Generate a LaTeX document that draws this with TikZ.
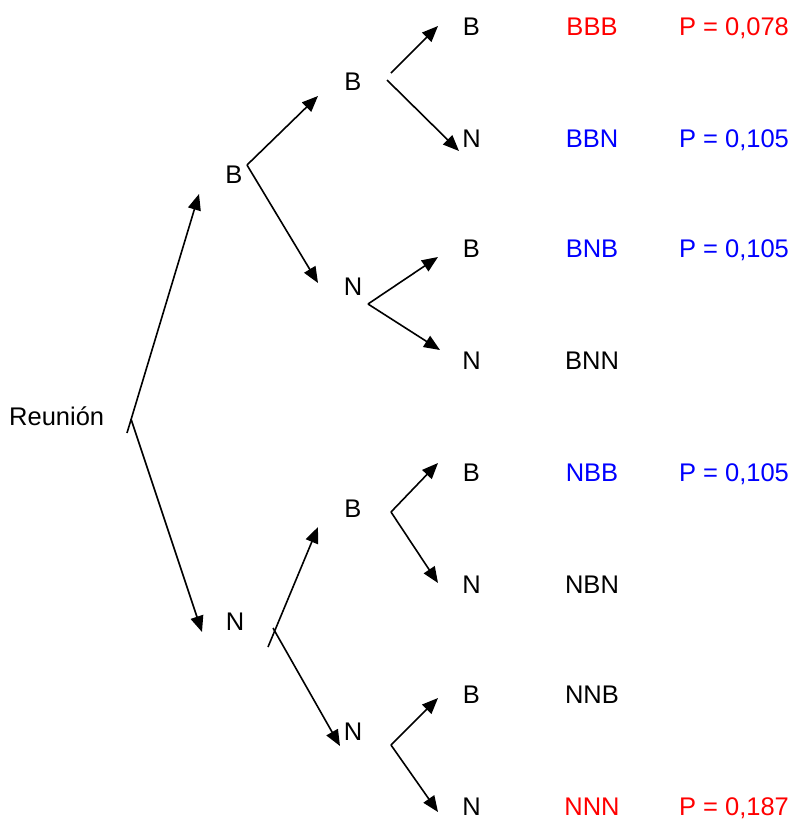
\documentclass[tikz,border=0pt]{standalone}
\usepackage{fontspec}
\setmainfont{Liberation Sans}
\usetikzlibrary{arrows.meta}
\begin{document}
\begin{tikzpicture}[x=1pt,y=-1pt,
  lbl/.style={anchor=base,inner sep=0pt,font=\fontsize{25.5}{30}\selectfont},
  br/.style={line width=1.6pt,-{Triangle[length=16pt,width=13pt]}},
  redt/.style={text={rgb,255:red,255;green,0;blue,0}},
  bluet/.style={text={rgb,255:red,0;green,0;blue,255}}]
\useasboundingbox (0,0) rectangle (793,820);
% level nodes
\node[lbl,anchor=base west] (root) at (9,425) {Reunión};
\node[lbl] (b1) at (234,183) {B};
\node[lbl] (n1) at (235,630) {N};
\node[lbl] (bb) at (353,90) {B};
\node[lbl] (bn) at (353,295) {N};
\node[lbl] (nb) at (353,517) {B};
\node[lbl] (nn) at (353,740) {N};
% leaves
\foreach \nm/\t/\y in {l1/B/35,l2/N/147,l3/B/257,l4/N/369,l5/B/481,l6/N/593,l7/B/703,l8/N/815}
  \node[lbl] (\nm) at (471.5,\y) {\t};
% outcomes
\node[lbl,redt] (o1) at (592,35) {BBB};
\node[lbl,bluet] (o2) at (592,147) {BBN};
\node[lbl,bluet] (o3) at (592,257) {BNB};
\node[lbl] (o4) at (592,369) {BNN};
\node[lbl,bluet] (o5) at (592,481) {NBB};
\node[lbl] (o6) at (592,593) {NBN};
\node[lbl] (o7) at (592,703) {NNB};
\node[lbl,redt] (o8) at (592,815) {NNN};
% probabilities
\node[lbl,redt] (p1) at (734,35) {P = 0,078};
\node[lbl,bluet] (p2) at (734,147) {P = 0,105};
\node[lbl,bluet] (p3) at (734,257) {P = 0,105};
\node[lbl,bluet] (p5) at (734,481) {P = 0,105};
\node[lbl,redt] (p8) at (734,815) {P = 0,187};
% junction and tip coordinates
\coordinate (r0) at (127,433);
\coordinate (r1) at (131,419);
\coordinate (tb1) at (199,194);
\coordinate (tn1) at (202,632);
\coordinate (j1) at (247,165);
\coordinate (tbb) at (318,96);
\coordinate (tbn) at (318,283);
\coordinate (jbb1) at (391,73);
\coordinate (jbb2) at (387,80);
\coordinate (t1) at (438,26);
\coordinate (t2) at (459,151);
\coordinate (jbn) at (368,304);
\coordinate (t3) at (438,257);
\coordinate (t4) at (440,350);
\coordinate (jn0) at (268,647);
\coordinate (jn1) at (273,628);
\coordinate (tnb) at (318,527);
\coordinate (tnn) at (340,746);
\coordinate (jnb) at (391,512);
\coordinate (t5) at (438,463);
\coordinate (t6) at (438,583);
\coordinate (jnn) at (391,745);
\coordinate (t7) at (438,698);
\coordinate (t8) at (438,812);
% branches
\draw[br] (r0) -- (tb1);
\draw[br] (r1) -- (tn1);
\draw[br] (j1) -- (tbb);
\draw[br] (j1) -- (tbn);
\draw[br] (jbb1) -- (t1);
\draw[br] (jbb2) -- (t2);
\draw[br] (jbn) -- (t3);
\draw[br] (jbn) -- (t4);
\draw[br] (jn0) -- (tnb);
\draw[br] (jn1) -- (tnn);
\draw[br] (jnb) -- (t5);
\draw[br] (jnb) -- (t6);
\draw[br] (jnn) -- (t7);
\draw[br] (jnn) -- (t8);
\end{tikzpicture}
\end{document}
